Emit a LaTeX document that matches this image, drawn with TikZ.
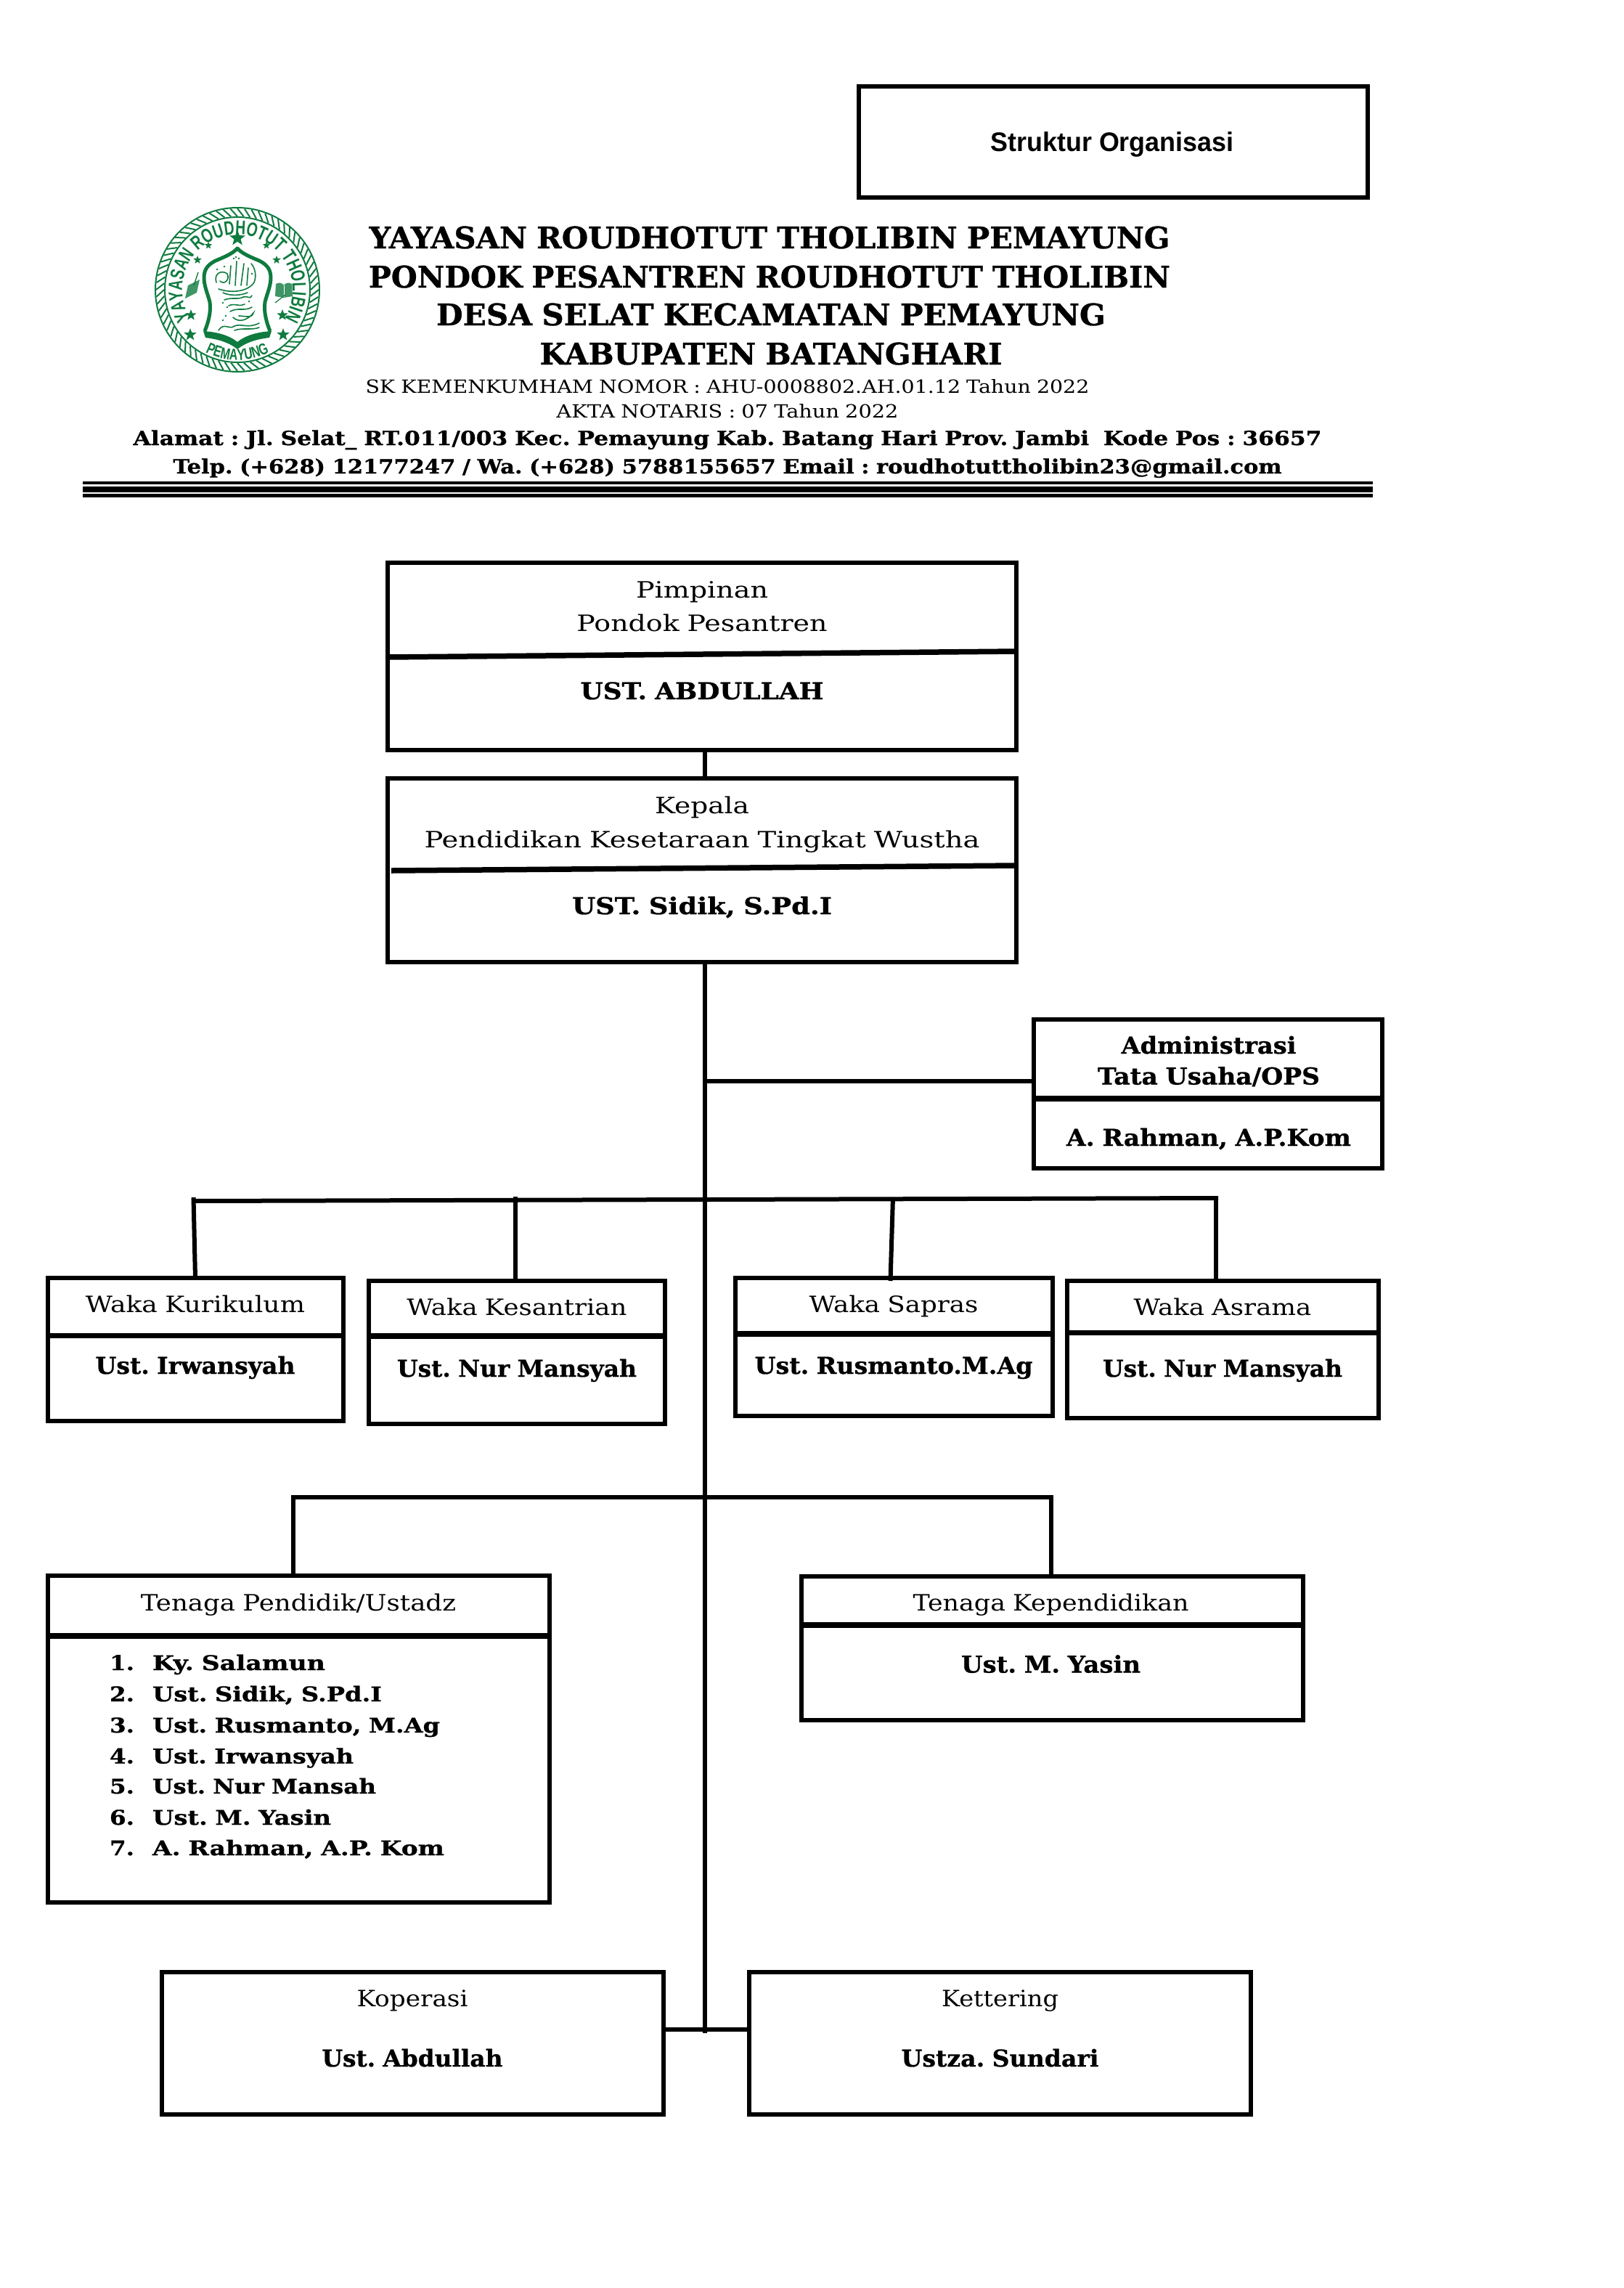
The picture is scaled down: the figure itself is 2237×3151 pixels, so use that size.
\documentclass[tikz,border=0pt]{standalone}
\usepackage{fontspec}
\setmainfont{DejaVu Serif}[WordSpace=0.9,BoldFeatures={FakeBold=0.8}]
\newfontfamily\hdsans{Liberation Sans}
\newfontfamily\logofont[FakeStretch=0.72]{Liberation Sans Bold}
\usetikzlibrary{shapes.geometric,decorations.text}
\definecolor{logogreen}{HTML}{0F7B3F}
\frenchspacing
\newcommand\tx[3]{\resizebox{#2pt}{\height}{\fontsize{#1}{#1}\selectfont #3}}
\newcommand\rg[2]{\tx{31}{#1}{#2}}
\newcommand\bd[2]{\tx{32}{#1}{\bfseries #2}}
\tikzset{
  box/.style={draw=black,line width=6pt,rectangle,inner sep=0pt,outer sep=0pt},
  lab/.style={anchor=base,inner sep=0pt,outer sep=0pt},
  labw/.style={anchor=base west,inner sep=0pt,outer sep=0pt},
  conn/.style={draw=black,line width=6pt},
  div/.style={draw=black,line width=7.5pt},
  rope/.style={draw=logogreen,line width=2pt},
  cal/.style={draw=logogreen,line width=1.6pt,line cap=round},
  lstar/.style={star,star points=5,star point ratio=2.4,fill=logogreen,inner sep=0pt,outer sep=0pt},
}
\newcommand\bx[5]{\node[box,minimum width={(#4-#2)*1pt},minimum height={(#5-#3)*1pt}] (#1) at ({(#2+#4)/2},{-(#3+#5)/2}) {};}
\newcommand\dv[3]{\draw[div] (#1.west |- 0,-#2) -- (#1.east |- 0,-#3);}
\begin{document}
\begin{tikzpicture}[x=1pt,y=1pt]
\useasboundingbox (0,-3151) rectangle (2237,0);
% title box
\bx{ttl}{1183}{119}{1884}{272}
\node[lab] (ttlt) at (1532,-208) {\resizebox{335pt}{\height}{\fontsize{37}{37}\selectfont\hdsans\bfseries Struktur Organisasi}};
% logo
\begin{scope}[shift={(327,-399)}]
  \draw[logogreen,line width=2pt] (0,0) circle[radius=113];
  \draw[logogreen,line width=2pt] (0,0) circle[radius=100];
  \foreach \a in {0,5,...,355} {\draw[rope] (\a:101) -- (\a+5:112);}
  \path[decorate,decoration={text along path,text align=center,
     text={|\fontsize{27}{27}\selectfont\logofont\color{logogreen}|YAYASAN ROUDHOTUT THOLIBIN}}]
     (212:76) arc[start angle=212,end angle=-32,radius=76];
  \path[decorate,decoration={text along path,text align=center,
     text={|\fontsize{22}{22}\selectfont\logofont\color{logogreen}|PEMAYUNG}}]
     (236:97) arc[start angle=236,end angle=304,radius=97];
  \node[lstar,minimum size=23pt] (st1) at (0,71) {};
  \node[lstar,minimum size=11pt] (st2) at (-40,61) {};
  \node[lstar,minimum size=11pt] (st3) at (40,61) {};
  \node[lstar,minimum size=12pt] (st4) at (-55,41) {};
  \node[lstar,minimum size=12pt] (st5) at (54,41) {};
  \node[lstar,minimum size=16pt] (st6) at (-64,-35) {};
  \node[lstar,minimum size=16pt] (st7) at (62,-35) {};
  \node[lstar,minimum size=18pt] (st8) at (-65,-62) {};
  \node[lstar,minimum size=18pt] (st9) at (63,-62) {};
  % dome
  \draw[logogreen,line width=5pt,line join=round]
    (-45,-57) .. controls (-40,-45) and (-36,-30) .. (-38,-17)
    .. controls (-41,-5) and (-46,5) .. (-46,17)
    .. controls (-46,30) and (-38,36) .. (-30,40)
    .. controls (-18,45) and (-6,50) .. (0,57)
    .. controls (6,50) and (18,45) .. (30,40)
    .. controls (38,36) and (46,30) .. (46,17)
    .. controls (46,5) and (41,-5) .. (38,-17)
    .. controls (36,-30) and (40,-45) .. (45,-57);
  \fill[logogreen] (-47,-57) .. controls (-30,-58) and (-12,-62) .. (0,-72)
    .. controls (12,-62) and (30,-58) .. (47,-57) -- (44,-66)
    .. controls (28,-68) and (12,-72) .. (0,-82)
    .. controls (-12,-72) and (-28,-68) .. (-44,-66) -- cycle;
  % calligraphy strokes
  \draw[cal] (-29,10) .. controls (-33,22) and (-22,28) .. (-14,22) .. controls (-10,14) and (-18,6) .. (-24,12);
  \draw[cal] (-11,8) -- (-9,33);
  \draw[cal] (-3,6) -- (-1,39);
  \draw[cal] (5,6) -- (9,36);
  \draw[cal] (13,6) -- (15,30);
  \draw[cal] (-26,1) .. controls (-8,-5) and (14,-3) .. (23,10) .. controls (27,20) and (24,30) .. (19,36);
  \draw[cal] (-20,-4) .. controls (-10,-9) and (5,-8) .. (14,-4);
  \draw[cal] (-18,-14) .. controls (-8,-10) and (2,-14) .. (8,-10) .. controls (14,-8) and (18,-14) .. (20,-8);
  \draw[cal] (-12,-22) .. controls (-4,-18) and (4,-24) .. (10,-20);
  \draw[cal] (-10,-30) .. controls (0,-24) and (10,-30) .. (20,-24);
  \draw[cal] (-6,-38) .. controls (2,-46) and (14,-42) .. (22,-32) .. controls (20,-40) and (10,-36) .. (2,-36);
  \draw[cal] (-26,-56) .. controls (-18,-44) and (-12,-56) .. (-4,-50) .. controls (6,-46) and (14,-54) .. (30,-46);
  \draw[cal] (-4,-56) .. controls (6,-52) and (20,-56) .. (30,-52);
  \foreach \p in {(-20,-18),(-14,-24),(16,-16),(-16,-36),(-20,-42),(-5,43),(-2,45),(2,43),(20,22),(-18,32),(-28,28)}
    {\fill[logogreen] \p circle[radius=1.3];}
  % books
  \fill[logogreen!80] (-72,-12) -- (-56,-4) -- (-52,14) -- (-68,6) -- cycle;
  \draw[logogreen,line width=1.4pt] (-60,6) -- (-54,24);
  \fill[logogreen!80] (53,8) .. controls (58,11) and (62,9) .. (64,6) .. controls (66,9) and (70,11) .. (75,8) -- (76,-9) -- (64,-11) -- (52,-9) -- cycle;
  \draw[white,line width=1pt] (64,6) -- (64,-10);
  \draw[logogreen,line width=1.2pt] (52,-18) -- (66,-7);
\end{scope}
% heading
\node[lab] (h1) at (1060,-342) {\tx{41}{1103}{\bfseries YAYASAN ROUDHOTUT THOLIBIN PEMAYUNG}};
\node[lab] (h2) at (1060,-396) {\tx{41}{1104}{\bfseries PONDOK PESANTREN ROUDHOTUT THOLIBIN}};
\node[lab] (h3) at (1062,-448) {\tx{41}{922}{\bfseries DESA SELAT KECAMATAN PEMAYUNG}};
\node[lab] (h4) at (1062,-502) {\tx{41}{637}{\bfseries KABUPATEN BATANGHARI}};
\node[lab] (h5) at (1002,-541) {\tx{25}{997}{SK KEMENKUMHAM NOMOR : AHU-0008802.AH.01.12 Tahun 2022}};
\node[lab] (h6) at (1002,-575) {\tx{25}{471}{AKTA NOTARIS : 07 Tahun 2022}};
\node[lab] (h7) at (1002,-613) {\tx{27}{1637}{\bfseries Alamat : Jl. Selat\_ RT.011/003 Kec. Pemayung Kab. Batang Hari Prov. Jambi\ \ Kode Pos : 36657}};
\node[lab] (h8) at (1002,-652) {\tx{27}{1527}{\bfseries Telp. (+628) 12177247 / Wa. (+628) 5788155657 Email : roudhotuttholibin23@gmail.com}};
% rules
\coordinate (rl) at (114,0);
\coordinate (rr) at (1891,0);
\draw[black,line width=4pt] (rl |- 0,-665) -- (rr |- 0,-665);
\draw[black,line width=8pt] (rl |- 0,-674) -- (rr |- 0,-674);
\draw[black,line width=5pt] (rl |- 0,-682.5) -- (rr |- 0,-682.5);
% trunk and connectors first
\coordinate (tx) at (971,0);
\bx{pim}{534}{775}{1400}{1033}
\dv{pim}{905}{897}
\node[lab] (pim1) at (967,-823) {\rg{182}{Pimpinan}};
\node[lab] (pim2) at (967,-869) {\rg{345}{Pondok Pesantren}};
\node[lab] (pim3) at (967,-963) {\bd{335}{UST. ABDULLAH}};
\bx{kep}{534}{1072}{1400}{1325}
\coordinate (kdl) at (539,-1199);
\draw[div] (kdl) -- (kep.east |- 0,-1192);
\node[lab] (kep1) at (967,-1120) {\rg{130}{Kepala}};
\node[lab] (kep2) at (967,-1167) {\rg{765}{Pendidikan Kesetaraan Tingkat Wustha}};
\node[lab] (kep3) at (967,-1259) {\bd{358}{UST. Sidik, S.Pd.I}};
\draw[conn] (pim.south -| tx) -- (kep.north -| tx);
% admin
\bx{adm}{1424}{1404}{1904}{1609}
\dv{adm}{1513}{1513}
\node[lab] (adm1) at (1665,-1451) {\bd{241}{Administrasi}};
\node[lab] (adm2) at (1665,-1493.5) {\bd{306}{Tata Usaha/OPS}};
\node[lab] (adm3) at (1665,-1578) {\bd{392}{A. Rahman, A.P.Kom}};
% waka row
\bx{kur}{66}{1760}{473}{1957}
\dv{kur}{1839.5}{1839.5}
\node[lab] (kur1) at (269,-1807) {\rg{302}{Waka Kurikulum}};
\node[lab] (kur2) at (269,-1892) {\bd{275}{Ust. Irwansyah}};
\bx{kes}{508}{1764}{916}{1961}
\dv{kes}{1840}{1840}
\node[lab] (kes1) at (712,-1811) {\rg{303}{Waka Kesantrian}};
\node[lab] (kes2) at (712,-1896) {\bd{330}{Ust. Nur Mansyah}};
\bx{sap}{1013}{1760}{1450}{1950}
\dv{sap}{1837}{1837}
\node[lab] (sap1) at (1231,-1807) {\rg{233}{Waka Sapras}};
\node[lab] (sap2) at (1231,-1892) {\bd{383}{Ust. Rusmanto.M.Ag}};
\bx{asr}{1469.5}{1764}{1899}{1953}
\dv{asr}{1835.5}{1835.5}
\node[lab] (asr1) at (1684,-1811) {\rg{245}{Waka Asrama}};
\node[lab] (asr2) at (1684,-1896) {\bd{330}{Ust. Nur Mansyah}};
% tenaga
\bx{ten}{66}{2170}{757}{2620}
\dv{ten}{2253}{2253}
\node[lab] (ten1) at (411,-2218) {\rg{434}{Tenaga Pendidik/Ustadz}};
\node[labw] (n1) at (151,-2300) {\tx{28}{34}{\bfseries 1.}};
\node[labw] (n2) at (151,-2343) {\tx{28}{34}{\bfseries 2.}};
\node[labw] (n3) at (151,-2386) {\tx{28}{34}{\bfseries 3.}};
\node[labw] (n4) at (151,-2428.5) {\tx{28}{34}{\bfseries 4.}};
\node[labw] (n5) at (151,-2470) {\tx{28}{34}{\bfseries 5.}};
\node[labw] (n6) at (151,-2513) {\tx{28}{34}{\bfseries 6.}};
\node[labw] (n7) at (151,-2555) {\tx{28}{34}{\bfseries 7.}};
\node[labw] (l1) at (210,-2300) {\tx{28}{238}{\bfseries Ky. Salamun}};
\node[labw] (l2) at (210,-2343) {\tx{28}{316}{\bfseries Ust. Sidik, S.Pd.I}};
\node[labw] (l3) at (210,-2386) {\tx{28}{396}{\bfseries Ust. Rusmanto, M.Ag}};
\node[labw] (l4) at (210,-2428.5) {\tx{28}{277}{\bfseries Ust. Irwansyah}};
\node[labw] (l5) at (210,-2470) {\tx{28}{308}{\bfseries Ust. Nur Mansah}};
\node[labw] (l6) at (210,-2513) {\tx{28}{246}{\bfseries Ust. M. Yasin}};
\node[labw] (l7) at (210,-2555) {\tx{28}{402}{\bfseries A. Rahman, A.P. Kom}};
\bx{tkp}{1104}{2171}{1795}{2369}
\dv{tkp}{2238}{2238}
\node[lab] (tkp1) at (1447.5,-2218) {\rg{380}{Tenaga Kependidikan}};
\node[lab] (tkp2) at (1447.5,-2303.5) {\bd{247}{Ust. M. Yasin}};
% bottom
\bx{kop}{223}{2716}{914}{2912}
\node[lab] (kop1) at (568,-2763) {\rg{153}{Koperasi}};
\node[lab] (kop2) at (568,-2846) {\bd{249}{Ust. Abdullah}};
\bx{ket}{1032}{2716}{1723}{2912}
\node[lab] (ket1) at (1377.5,-2763) {\rg{161}{Kettering}};
\node[lab] (ket2) at (1377.5,-2846) {\bd{272}{Ustza. Sundari}};
% connectors
\coordinate (tend) at (971,-2800);
\draw[conn] (kep.south -| tx) -- (tend);
\coordinate (admj) at (971,-1489);
\draw[conn] (admj) -- (adm.west |- admj);
\coordinate (hl) at (264,-1654);
\coordinate (hr) at (1678,-1650);
\draw[conn] (hl) -- (hr);
\coordinate (d1) at (266.5,-1649);
\coordinate (d2) at (269,-1760);
\draw[conn] (d1) -- (d2);
\coordinate (d3) at (710,-1648);
\draw[conn] (d3) -- (d3 |- kes.north);
\coordinate (d4) at (1230,-1649);
\coordinate (d5) at (1226.5,-1764);
\draw[conn] (d4) -- (d5);
\coordinate (d6) at (1675,-1650);
\draw[conn] (d6) -- (d6 |- asr.north);
\coordinate (gl) at (401,-2062);
\coordinate (gr) at (1450.5,-2062);
\draw[conn] (gl) -- (gr);
\coordinate (g1) at (404,-2062);
\draw[conn] (g1) -- (g1 |- ten.north);
\coordinate (g2) at (1447.5,-2062);
\draw[conn] (g2) -- (g2 |- tkp.north);
\coordinate (bj) at (971,-2795);
\draw[conn] (kop.east |- bj) -- (ket.west |- bj);
\end{tikzpicture}
\end{document}
